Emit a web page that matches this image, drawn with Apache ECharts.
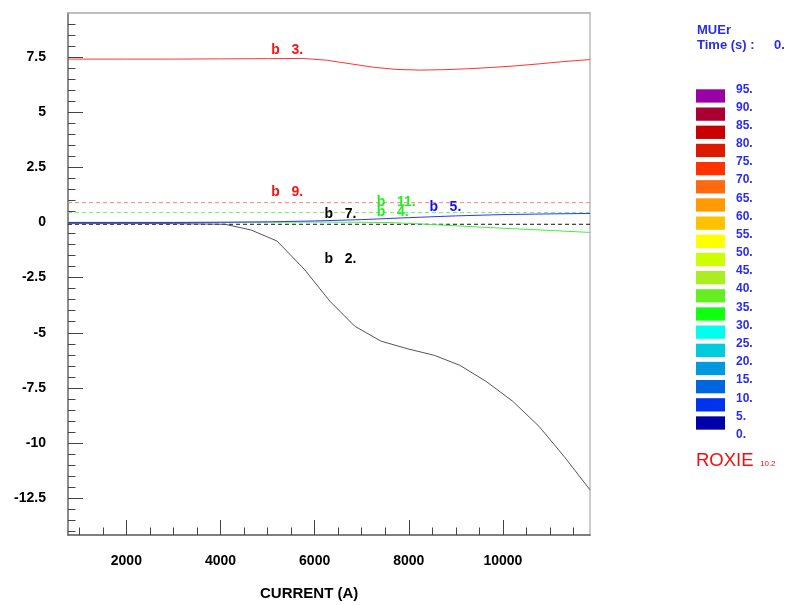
<!DOCTYPE html>
<html>
<head>
<meta charset="utf-8">
<script src="https://cdn.jsdelivr.net/npm/echarts@6/dist/echarts.min.js"></script>
<style>
  html, body { margin: 0; padding: 0; background: #fff; }
  #chart { width: 788px; height: 605px; }
</style>
</head>
<body>
<div id="chart"></div>
<script>
// Field-error components versus excitation current (ROXIE style plot)
const xMajorTicks = [2000, 4000, 6000, 8000, 10000];
const xMinorTicks = [1000, 1500, 2500, 3000, 3500, 4500, 5000, 5500, 6500, 7000, 7500,
                     8500, 9000, 9500, 10500, 11000, 11500];
const yMajorTicks = [-12.5, -10, -7.5, -5, -2.5, 0, 2.5, 5, 7.5];
const yMinorTicks = [-14, -13.5, -13, -12, -11.5, -11, -10.5, -9.5, -9, -8.5, -8, -7,
                     -6.5, -6, -5.5, -4.5, -4, -3.5, -3, -2, -1.5, -1, -0.5, 0.5, 1,
                     1.5, 2, 3, 3.5, 4, 4.5, 5.5, 6, 6.5, 7, 8, 8.5, 9];

// b3 (solid red)
const b3 = [[760, 7.41], [2000, 7.41], [3000, 7.41], [4000, 7.42], [5000, 7.43], [5750, 7.44],
            [6250, 7.36], [6750, 7.2], [7250, 7.04], [7750, 6.94], [8250, 6.91], [8750, 6.93],
            [9250, 6.97], [9750, 7.03], [10250, 7.1], [10750, 7.19], [11250, 7.29], [11850, 7.39]];
// b2 (solid dark grey)
const b2 = [[760, -0.05], [2000, -0.05], [3000, -0.05], [4100, -0.08], [4650, -0.34],
            [5200, -0.84], [5780, -2.12], [6320, -3.56], [6850, -4.7], [7410, -5.38],
            [7980, -5.73], [8540, -6.02], [9080, -6.47], [9640, -7.2], [10210, -8.11],
            [10770, -9.25], [11300, -10.61], [11850, -12.12]];
// b5 (solid blue)
const b5 = [[760, 0.0], [3000, 0.0], [4000, 0.01], [5000, 0.03], [6000, 0.07], [7000, 0.13],
            [8000, 0.22], [9000, 0.3], [10000, 0.36], [11000, 0.39], [11850, 0.41]];
// b4 (solid green)
const b4 = [[760, 0.01], [4000, 0.01], [6000, 0.02], [7000, 0.01], [7600, 0.0], [8200, -0.06],
            [9000, -0.15], [10000, -0.26], [11000, -0.36], [11850, -0.45]];
// constant (dashed) components
const b9 = [[760, 0.9], [11850, 0.9]];
const b11 = [[760, 0.45], [11850, 0.45]];
const b7 = [[760, -0.08], [11850, -0.08]];

// curve tags: [text, x, y]
const tagB3 = ['b   3.', 5078, 7.8];
const tagB9 = ['b   9.', 5078, 1.36];
const tagB7 = ['b   7.', 6209, 0.38];
const tagB11 = ['b   11.', 7319, 0.91];
const tagB4 = ['b   4.', 7319, 0.48];
const tagB5 = ['b   5.', 8438, 0.68];
const tagB2 = ['b   2.', 6209, -1.64];

// colour scale
const scaleColors = ['#9a00a8', '#aa0033', '#c80000', '#dc1a00', '#ff3300', '#ff6a10',
                     '#ff9a00', '#ffc200', '#ffff00', '#ccff00', '#aaee22', '#66ee22',
                     '#11ff11', '#00ffee', '#00ccdd', '#0099dd', '#0066dd', '#0033ee', '#0000aa'];
const scaleLabels = ['95.', '90.', '85.', '80.', '75.', '70.', '65.', '60.', '55.', '50.',
                     '45.', '40.', '35.', '30.', '25.', '20.', '15.', '10.', '5.', '0.'];

const FONT = "'Liberation Sans', Arial, Helvetica, sans-serif";
const BLUE = '#2b2bf0';

function tag(t, color) {
  return {
    symbol: 'circle', symbolSize: 0, silent: true,
    label: { show: true, position: 'right', distance: 0, formatter: t[0], color: color,
             fontWeight: 'bold', fontSize: 14, fontFamily: FONT },
    data: [{ coord: [t[1], t[2]] }]
  };
}

function lineSeries(data, color, dashed, t, tagColor) {
  return {
    type: 'line', data: data, xAxisIndex: 0, yAxisIndex: 0,
    symbol: 'none', silent: true, animation: false,
    lineStyle: { color: color, width: 1, type: dashed ? [4, 3] : 'solid' },
    markPoint: t ? tag(t, tagColor) : undefined
  };
}

const chart = echarts.init(document.getElementById('chart'), null, { renderer: 'canvas' });

const graphics = [];
scaleColors.forEach((c, i) => {
  graphics.push({ type: 'rect', shape: { x: 696, y: 89.3 + 18.17 * i, width: 29, height: 13.3 },
                  style: { fill: c } });
});
scaleLabels.forEach((s, j) => {
  graphics.push({ type: 'text', x: 736, y: 89.3 + 18.17 * j,
                  style: { text: s, fill: BLUE, font: 'bold 12px ' + FONT, textVerticalAlign: 'middle' } });
});
graphics.push({ type: 'text', x: 697, y: 30, style: { text: 'MUEr', fill: BLUE, font: 'bold 13px ' + FONT, textVerticalAlign: 'middle' } });
graphics.push({ type: 'text', x: 697, y: 45, style: { text: 'Time (s) :', fill: BLUE, font: 'bold 13px ' + FONT, textVerticalAlign: 'middle' } });
graphics.push({ type: 'text', x: 774, y: 45, style: { text: '0.', fill: BLUE, font: 'bold 13px ' + FONT, textVerticalAlign: 'middle' } });
graphics.push({ type: 'text', x: 696, y: 461, style: { text: 'ROXIE', fill: '#ee1111', font: '18.5px ' + FONT, textVerticalAlign: 'middle' } });
graphics.push({ type: 'text', x: 760, y: 464, style: { text: '10.2', fill: '#ee1111', font: '8px ' + FONT, textVerticalAlign: 'middle' } });

const plain = v => String(v);

const option = {
  backgroundColor: '#fff',
  animation: false,
  title: {
    text: 'CURRENT (A)', left: 255, top: 581,
    textStyle: { fontFamily: FONT, fontWeight: 'bold', fontSize: 15, color: '#000' }
  },
  grid: { left: 68, top: 13, width: 522, height: 522, containLabel: false },
  xAxis: [
    {
      type: 'value', position: 'bottom', min: 760, max: 11850,
      axisLine: { show: true, onZero: false, lineStyle: { color: '#555', width: 1.5 } },
      axisTick: { show: true, inside: true, length: 15, customValues: xMajorTicks, lineStyle: { color: '#444' } },
      axisLabel: { show: true, customValues: xMajorTicks, formatter: plain, margin: 19, color: '#000',
                   fontWeight: 'bold', fontSize: 14, fontFamily: FONT },
      splitLine: { show: false }
    },
    {
      type: 'value', position: 'bottom', min: 760, max: 11850,
      axisLine: { show: false, onZero: false },
      axisTick: { show: true, inside: true, length: 7.5, customValues: xMinorTicks, lineStyle: { color: '#444' } },
      axisLabel: { show: false }, splitLine: { show: false }
    },
    {
      type: 'value', position: 'top', min: 760, max: 11850,
      axisLine: { show: true, onZero: false, lineStyle: { color: '#aaa', width: 1.5 } },
      axisTick: { show: false }, axisLabel: { show: false }, splitLine: { show: false }
    }
  ],
  yAxis: [
    {
      type: 'value', position: 'left', min: -14.17, max: 9.5,
      axisLine: { show: true, onZero: false, lineStyle: { color: '#666', width: 1.5 } },
      axisTick: { show: true, inside: true, length: 15, customValues: yMajorTicks, lineStyle: { color: '#444' } },
      axisLabel: { show: true, customValues: yMajorTicks, formatter: plain, margin: 22, color: '#000',
                   fontWeight: 'bold', fontSize: 14, fontFamily: FONT },
      splitLine: { show: false }
    },
    {
      type: 'value', position: 'left', min: -14.17, max: 9.5,
      axisLine: { show: false, onZero: false },
      axisTick: { show: true, inside: true, length: 7.5, customValues: yMinorTicks, lineStyle: { color: '#444' } },
      axisLabel: { show: false }, splitLine: { show: false }
    },
    {
      type: 'value', position: 'right', min: -14.17, max: 9.5,
      axisLine: { show: true, onZero: false, lineStyle: { color: '#ccc', width: 2 } },
      axisTick: { show: false }, axisLabel: { show: false }, splitLine: { show: false }
    }
  ],
  series: [
    lineSeries(b9, '#ff8080', true, tagB9, '#ff1010'),
    lineSeries(b11, '#70f070', true, tagB11, '#22ee22'),
    lineSeries(b7, '#111', true, tagB7, '#000'),
    lineSeries(b4, '#44ee44', false, tagB4, '#22ee22'),
    lineSeries(b5, '#3333ff', false, tagB5, '#1010ff'),
    lineSeries(b3, '#ff3333', false, tagB3, '#ff1010'),
    lineSeries(b2, '#555', false, tagB2, '#000')
  ],
  graphic: graphics
};

chart.setOption(option);
</script>
</body>
</html>
